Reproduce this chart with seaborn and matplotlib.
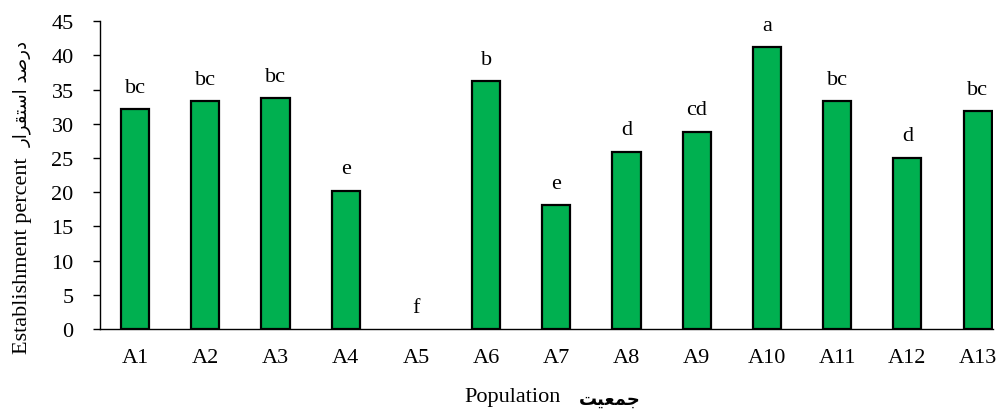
import matplotlib
matplotlib.use("Agg")
import matplotlib.pyplot as plt
import seaborn as sns
import pandas as pd

populations = ["A1", "A2", "A3", "A4", "A5", "A6", "A7", "A8", "A9", "A10", "A11", "A12", "A13"]
establishment = [32.1, 33.3, 33.7, 20.2, 0.0, 36.2, 18.1, 25.9, 28.8, 41.2, 33.3, 25.0, 31.8]
groups = ["bc", "bc", "bc", "e", "f", "b", "e", "d", "cd", "a", "bc", "d", "bc"]

# persian labels, pre-shaped (presentation forms, visual order) since matplotlib has no bidi
ylabel_fa = "\uFEAD\uFE8D\uFEAE\uFED8\uFE98\uFEB3\uFE8D \uFEAA\uFEBB\uFEAD\uFEA9"  # درصد استقرار
xlabel_fa = "\uFE96\uFEF4\uFECC\uFEE4\uFE9F"  # جمعیت

df = pd.DataFrame({"population": populations, "value": establishment})

sns.set_style("ticks")
plt.rcParams["font.family"] = ["Liberation Serif", "DejaVu Sans"]
plt.rcParams["text.color"] = "black"
plt.rcParams["axes.labelcolor"] = "black"
plt.rcParams["xtick.color"] = "black"
plt.rcParams["ytick.color"] = "black"

fig = plt.figure(figsize=(10, 4.1), dpi=100)
ax = fig.add_axes([0.1, 0.195, 0.893, 0.751])

sns.barplot(data=df, x="population", y="value", color="#00B050", saturation=1,
            width=0.4, edgecolor="black", linewidth=1.6, ax=ax)
# zero bar shows no outline in the original
for p, v in zip(ax.patches, establishment):
    if v == 0:
        p.set_linewidth(0)

for i, (v, g) in enumerate(zip(establishment, groups)):
    ax.annotate(g, (i, v), xytext=(0, 9), textcoords="offset points",
                ha="center", va="bottom", fontsize=16)

ax.set_ylim(0, 45)
ax.set_yticks(range(0, 50, 5))
ax.set_xlim(-0.5, 12.22)
sns.despine(ax=ax)
for s in ["left", "bottom"]:
    ax.spines[s].set_color("black")
    ax.spines[s].set_linewidth(1)
ax.tick_params(axis="y", length=5, width=1, pad=14, labelsize=16)
ax.tick_params(axis="x", length=0, pad=14, labelsize=16)

ax.set_xlabel("Population", fontsize=16, va="center")
ax.xaxis.set_label_coords(0.4625, -0.22)
ax.set_ylabel("Establishment percent", fontsize=16, va="center")
ax.yaxis.set_label_coords(-0.087, 0.243)

ax.text(0.571, -0.225, xlabel_fa, transform=ax.transAxes, ha="center", va="center",
        fontsize=13, fontweight="bold", family=["DejaVu Sans"])
ax.text(-0.087, 0.765, ylabel_fa, transform=ax.transAxes, ha="center", va="center",
        rotation=90, fontsize=13, family=["DejaVu Sans"])

fig.savefig("out.png", dpi=100)
